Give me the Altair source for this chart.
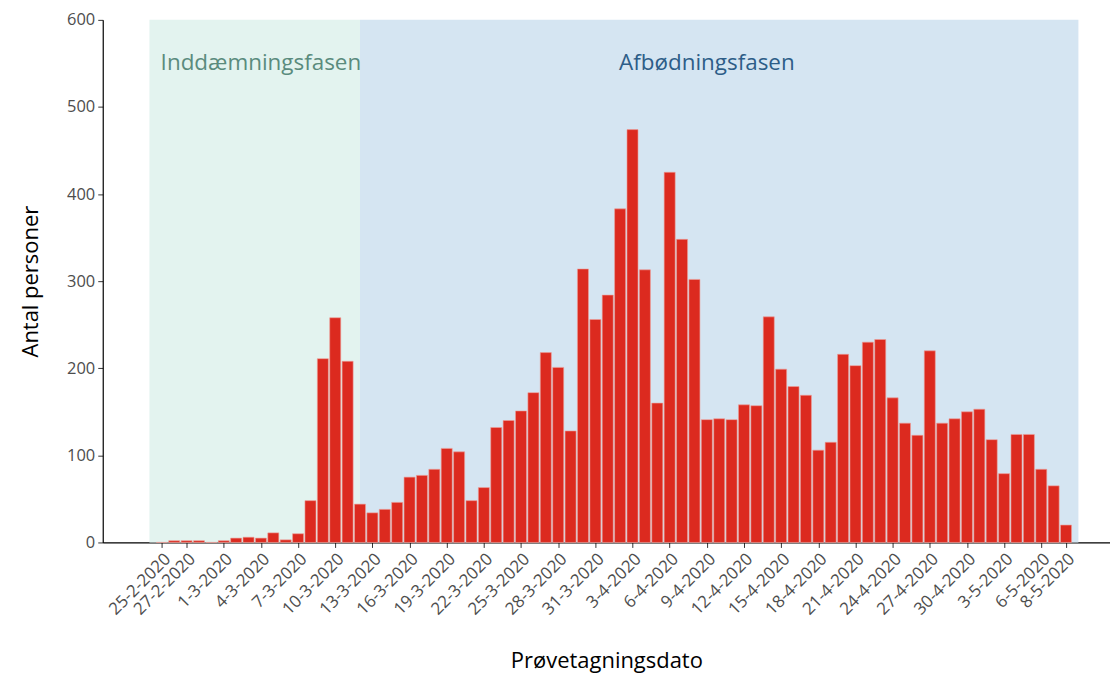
import altair as alt
import pandas as pd

# ---- data -----------------------------------------------------------------
dates = pd.date_range("2020-02-25", "2020-05-08", freq="D").strftime("%Y-%m-%d").tolist()
counts = [
    0, 2, 2, 2, 0,
    2, 5, 6, 5, 11, 3, 10, 48, 211, 258,
    208, 44, 34, 38, 46, 75, 77, 84, 108, 104,
    48, 63, 132, 140, 151, 172, 218, 201, 128, 314,
    256,
    284, 383, 474, 313, 160, 425, 348, 302, 141, 142,
    141, 158, 157, 259, 199, 179, 169, 106, 115, 216,
    203, 230, 233, 166, 137, 123, 220, 137, 142, 150,
    153, 118, 79, 124, 124, 84, 65, 20,
]

tick_dates = [
    "2020-02-25", "2020-02-27", "2020-03-01", "2020-03-04", "2020-03-07",
    "2020-03-10", "2020-03-13", "2020-03-16", "2020-03-19", "2020-03-22",
    "2020-03-25", "2020-03-28", "2020-03-31", "2020-04-03", "2020-04-06",
    "2020-04-09", "2020-04-12", "2020-04-15", "2020-04-18", "2020-04-21",
    "2020-04-24", "2020-04-27", "2020-04-30", "2020-05-03", "2020-05-06",
    "2020-05-08",
]

phase_names = ["Inddæmningsfasen", "Afbødningsfasen"]
phase_start = ["2020-02-24", "2020-03-12"]
phase_end = ["2020-03-12", "2020-05-09"]
phase_label_date = ["2020-03-04", "2020-04-09"]

phase_fills = ["#e3f3ef", "#d5e5f2"]
phase_text_colors = ["#5a8b7d", "#2d5d88"]

FONT = "Open Sans"


def dt(s, h=0, mi=0):
    y, m, d = (int(v) for v in s.split("-"))
    return alt.DateTime(year=y, month=m, date=d, hours=h, minutes=mi, utc=True)


df = pd.DataFrame({"date": dates, "count": counts})
phase_df = pd.DataFrame({
    "phase": phase_names,
    "start": phase_start,
    "end": phase_end,
    "label_date": phase_label_date,
})

xscale = alt.Scale(type="utc", domain=[dt("2020-02-20", 5, 31), dt("2020-05-11", 13, 12)], nice=False)
yscale = alt.Scale(domain=[0, 600], nice=False)

xaxis = alt.Axis(
    values=[dt(s) for s in tick_dates],
    format="%-d-%-m-%Y",
    labelAngle=315,
    labelFontSize=17,
    labelColor="#4d4d4d",
    labelFont=FONT,
    labelOverlap=False,
    labelFlush=False,
    tickColor="#333333",
    tickSize=5,
    domainColor="black",
    domainWidth=1.2,
    grid=False,
    title="Prøvetagningsdato",
    titleFont=FONT,
    titleFontSize=22,
    titleFontWeight="normal",
    titleColor="black",
    titlePadding=33,
    labelPadding=3,
)
yaxis = alt.Axis(
    values=[0, 100, 200, 300, 400, 500, 600],
    labelFontSize=16.5,
    labelColor="#4d4d4d",
    labelFont=FONT,
    labelOverlap=False,
    labelFlush=False,
    tickColor="#333333",
    tickSize=5,
    domainColor="black",
    domainWidth=1.2,
    grid=False,
    title="Antal personer",
    titleFont=FONT,
    titleFontSize=22,
    titleFontWeight="normal",
    titleColor="black",
    titlePadding=24,
    labelPadding=3,
)

rects = alt.Chart(phase_df).mark_rect().encode(
    x=alt.X("start:T", scale=xscale, axis=xaxis),
    x2="end:T",
    y=alt.Y(datum=600, type="quantitative", scale=yscale, axis=yaxis),
    y2=alt.datum(0),
    color=alt.Color("phase:N", scale=alt.Scale(domain=phase_names, range=phase_fills), legend=None),
)

bars = alt.Chart(df).transform_calculate(
    x0="time(datum.date) - 0.445 * 86400000",
    x1="time(datum.date) + 0.445 * 86400000",
).mark_bar(color="#dc2a1f", stroke="#ee9f98", strokeWidth=0.6).encode(
    x=alt.X("x0:T", scale=xscale, axis=xaxis),
    x2="x1:T",
    y=alt.Y("count:Q", scale=yscale, axis=yaxis),
    y2=alt.datum(0),
)

texts = alt.Chart(phase_df).mark_text(fontSize=22.5, font=FONT).encode(
    x=alt.X("label_date:T", scale=xscale, axis=xaxis),
    y=alt.Y(datum=550, type="quantitative", scale=yscale, axis=yaxis),
    text="phase:N",
    color=alt.Color("phase:N", scale=alt.Scale(domain=phase_names, range=phase_text_colors), legend=None),
)

chart = (
    alt.layer(rects, bars, texts)
    .resolve_scale(color="independent")
    .properties(
        width=1010,
        height=524,
        autosize=alt.AutoSizeParams(type="none"),
        padding={"left": 95, "top": 11, "right": 0, "bottom": 131},
    )
    .configure_view(stroke=None)
)

chart.save("out.html", embed_options={"renderer": "svg", "actions": False})
